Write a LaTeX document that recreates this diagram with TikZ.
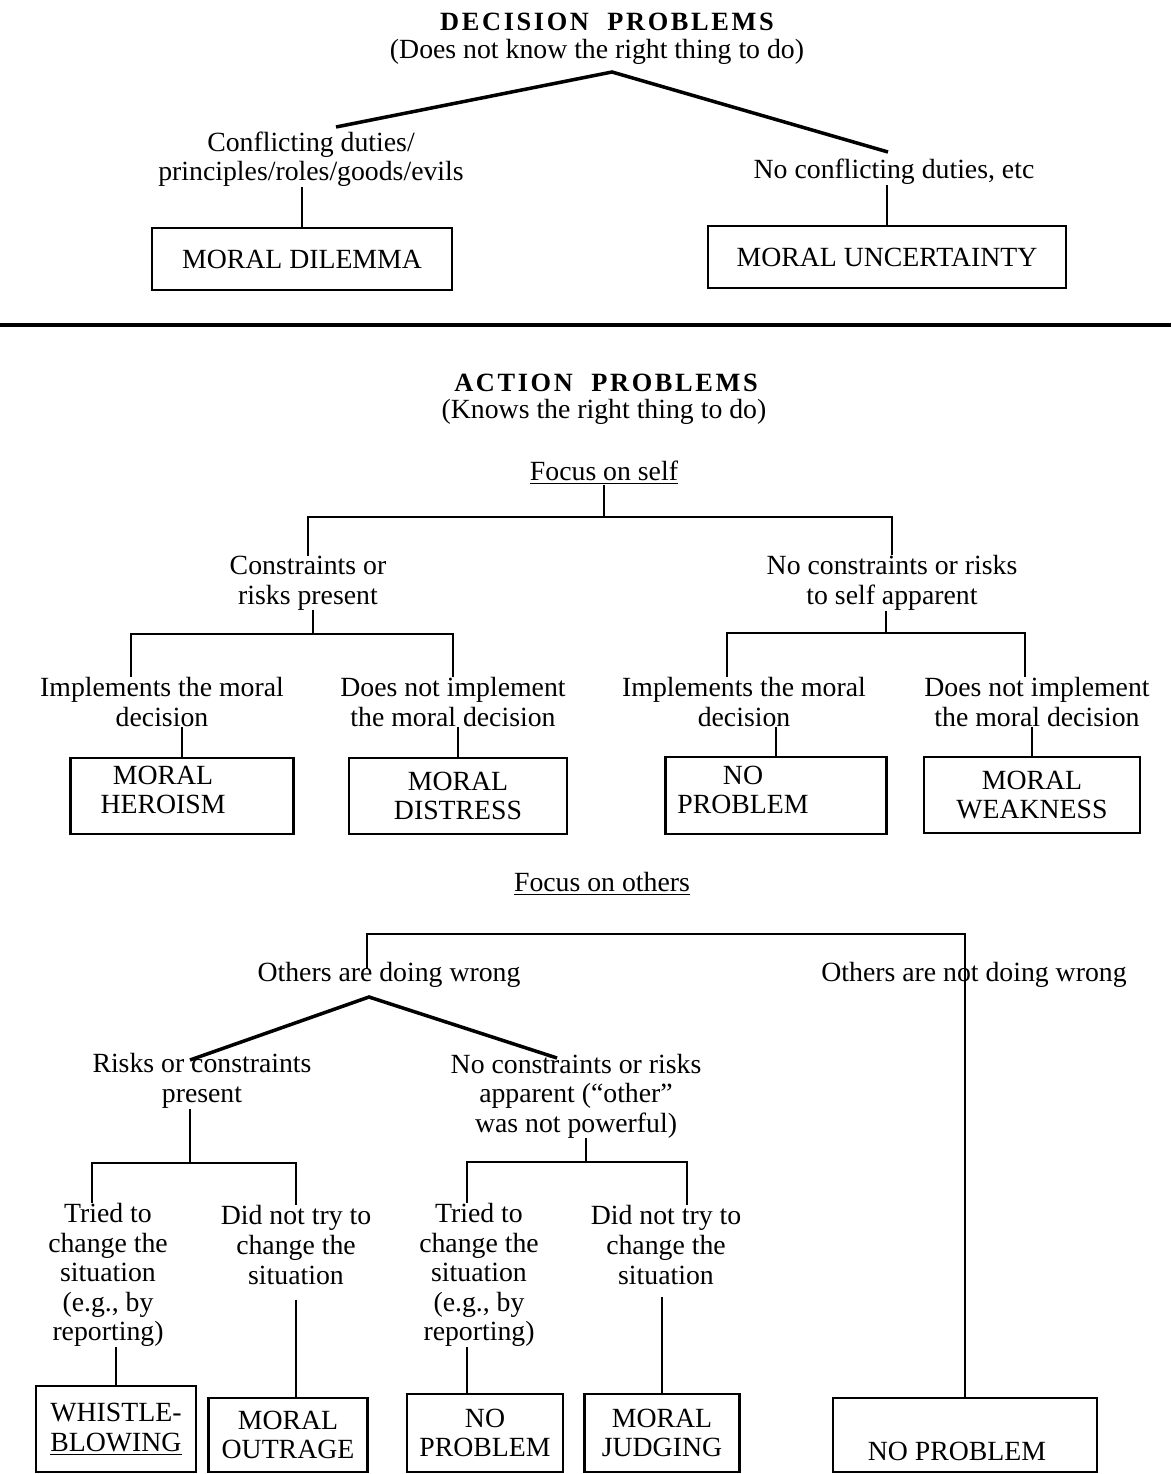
\documentclass[tikz,border=0pt]{standalone}
\usepackage{fontspec}
\setmainfont{Liberation Serif}
\newfontfamily\headfont[LetterSpace=10]{Liberation Serif}
\usetikzlibrary{positioning}
\tikzset{
  lbl/.style={align=center,inner sep=0pt,font=\fontsize{15.8}{16.8}\selectfont},
  head/.style={inner sep=0pt,font=\headfont\bfseries\fontsize{15}{17}\selectfont},
  resbox/.style={draw,line width=1.3pt,inner sep=0pt,align=center,font=\fontsize{15.8}{16.8}\selectfont},
  tree/.style={line width=1.3pt},
  fork/.style={line width=2pt}
}
\begin{document}
\begin{tikzpicture}[x=0.02cm,y=-0.02cm]
    \useasboundingbox (0,0) rectangle (1171,1474);
    \node[head] (dec) at (607,22) {DECISION\ \ PROBLEMS};
    \node[lbl] (decsub) at (597,52) {(Does not know the right thing to do)};
    \node[lbl] (conf) at (311,159) {Conflicting duties/\\principles/roles/goods/evils};
    \node[lbl] (noconf) at (894,172) {No conflicting duties, etc};
    \node[resbox,minimum width=6cm,minimum height=1.24cm] (dilemma) at (302,259) {MORAL DILEMMA};
    \node[resbox,minimum width=7.16cm,minimum height=1.24cm] (uncert) at (887,257) {MORAL UNCERTAINTY};
    \coordinate (dtop) at (612,72);
    \coordinate (dl) at (336,127);
    \coordinate (dr) at (888,152);
    \draw[fork] (dl) -- (dtop) -- (dr);
    \draw[tree] (dilemma.north) -- (dilemma.north |- conf.south);
    \draw[tree] (uncert.north) -- (uncert.north |- noconf.south);
    \draw[line width=2.8pt] (0,325) -- (1171,325);

    \node[head] (act) at (606,383) {ACTION\ \ PROBLEMS};
    \node[lbl] (actsub) at (604,412) {(Knows the right thing to do)};
    \node[lbl] (self) at (604,473) {\underline{Focus on self}};
    \node[lbl] (cons) at (308,583) {Constraints or\\risks present};
    \node[lbl] (nocons) at (892,583) {No constraints or risks\\to self apparent};
    \coordinate (sfork) at (604,517);
    \draw[tree] (self.south) -- (sfork);
    \draw[tree] (cons.north) |- (sfork) -| (nocons.north);
    \node[lbl] (cimp) at (162,702) {Implements the moral\\decision};
    \node[lbl] (cnot) at (453,702) {Does not implement\\the moral decision};
    \node[lbl] (nimp) at (744,702) {Implements the moral\\decision};
    \node[lbl] (nnot) at (1037,702) {Does not implement\\the moral decision};
    \coordinate (cfork) at (313,634);
    \coordinate (nfork) at (886,633);
    \draw[tree] (cons.south -| cfork) -- (cfork);
    \draw[tree] ([xshift=-0.62cm]cimp.north) |- (cfork) -| (cnot.north);
    \draw[tree] (nocons.south -| nfork) -- (nfork);
    \draw[tree] ([xshift=-0.34cm]nimp.north) |- (nfork) -| ([xshift=-0.24cm]nnot.north);
    \node[resbox,minimum width=4.46cm,minimum height=1.52cm] (hero) at (182,796) {};
    \node[lbl] (herot) at (163,790) {MORAL\\HEROISM};
    \node[resbox,minimum width=4.36cm,minimum height=1.52cm] (distress) at (458,796) {MORAL\\DISTRESS};
    \node[resbox,minimum width=4.42cm,minimum height=1.54cm] (noprobs) at (776,795.5) {};
    \node[lbl] (noprobst) at (743,790) {NO\\PROBLEM};
    \node[resbox,minimum width=4.32cm,minimum height=1.52cm] (weak) at (1032,795) {MORAL\\WEAKNESS};
    \draw[tree] (hero.north) -- (hero.north |- cimp.south);
    \draw[tree] (distress.north) -- (distress.north |- cnot.south);
    \draw[tree] (noprobs.north) -- (noprobs.north |- nimp.south);
    \draw[tree] (weak.north) -- (weak.north |- nnot.south);

    \node[lbl] (others) at (602,884) {\underline{Focus on others}};
    \node[lbl] (wrong) at (389,975) {Others are doing wrong};
    \node[lbl] (nowrong) at (974,975) {Others are not doing wrong};
    \node[resbox,minimum width=5.28cm,minimum height=1.48cm] (bignp) at (965,1435) {};
    \node[lbl] (bignpt) at (957,1451) {NO PROBLEM};
    \coordinate (oleft) at (367,968);
    \coordinate (obar) at (367,934);
    \draw[tree] (oleft) -- (obar) -| (bignp.north);
    \coordinate (wapex) at (369,997);
    \coordinate (wl) at (190,1060);
    \coordinate (wr) at (557,1058);
    \draw[fork] (wl) -- (wapex) -- (wr);
    \node[lbl] (risk) at (202,1081) {Risks or constraints\\present};
    \node[lbl] (noc) at (576,1096) {No constraints or risks\\apparent (``other''\\was not powerful)};
    \node[lbl] (rtry) at (108,1275) {Tried to\\change the\\situation\\(e.g., by\\reporting)};
    \node[lbl] (rdid) at (296,1245) {Did not try to\\change the\\situation};
    \node[lbl] (ntry) at (479,1275) {Tried to\\change the\\situation\\(e.g., by\\reporting)};
    \node[lbl] (ndid) at (666,1245) {Did not try to\\change the\\situation};
    \coordinate (rfork) at (190,1163);
    \coordinate (nfork2) at (586,1162);
    \draw[tree] (risk.south -| rfork) -- (rfork);
    \draw[tree] ([xshift=-0.32cm]rtry.north) |- (rfork) -| (rdid.north);
    \draw[tree] (noc.south -| nfork2) -- (nfork2);
    \draw[tree] ([xshift=-0.24cm]ntry.north) |- (nfork2) -| ([xshift=0.42cm]ndid.north);
    \node[resbox,minimum width=3.2cm,minimum height=1.72cm,align=left] (whistle) at (116,1429) {WHISTLE-\\\underline{BLOWING}};
    \node[resbox,minimum width=3.18cm,minimum height=1.48cm] (outrage) at (288,1435) {MORAL\\OUTRAGE};
    \node[resbox,minimum width=3.12cm,minimum height=1.56cm] (noprobo) at (485,1433) {NO\\PROBLEM};
    \node[resbox,minimum width=3.1cm,minimum height=1.56cm] (judge) at (662,1433) {MORAL\\JUDGING};
    \coordinate (rdidb) at ([yshift=-0.3cm]rdid.south);
    \coordinate (ntryb) at ([xshift=-0.24cm]ntry.south);
    \coordinate (ndidb) at ([yshift=-0.24cm]ndid.south);
    \draw[tree] (whistle.north) -- (whistle.north |- rtry.south);
    \draw[tree] (rdidb) -- (rdidb |- outrage.north);
    \draw[tree] (ntryb) -- (ntryb |- noprobo.north);
    \draw[tree] (judge.north) -- (judge.north |- ndidb);
\end{tikzpicture}
\end{document}
